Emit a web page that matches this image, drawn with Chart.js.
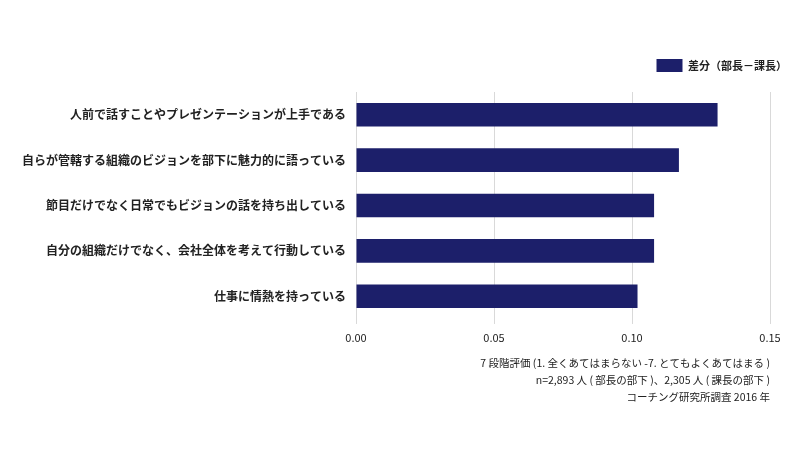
<!DOCTYPE html>
<html lang="ja">
<head>
    <meta charset="UTF-8">
    <title>差分（部長－課長）</title>
    <script src="https://cdn.jsdelivr.net/npm/chart.js"></script>
    <style>
        body { margin: 0; background: #fff; }
    </style>
</head>
<body>
    <canvas id="graficoDiferenca" width="800" height="460"></canvas>
<script>
    // dados
    const categorias = [
        "人前で話すことやプレゼンテーションが上手である",
        "自らが管轄する組織のビジョンを部下に魅力的に語っている",
        "節目だけでなく日常でもビジョンの話を持ち出している",
        "自分の組織だけでなく、会社全体を考えて行動している",
        "仕事に情熱を持っている"
    ];
    const diferenca = [0.131, 0.117, 0.108, 0.108, 0.102];
    const nomeSerie = "差分（部長－課長）";
    const ticksX = [0, 0.05, 0.10, 0.15];
    const rodape = [
        "7 段階評価 (1. 全くあてはまらない -7. とてもよくあてはまる )",
        "n=2,893 人 ( 部長の部下 )、2,305 人 ( 課長の部下 )",
        "コーチング研究所調査 2016 年"
    ];

    const fonte = "'Noto Sans CJK JP', 'Noto Sans', sans-serif";
    const corTexto = "#222";

    const dados = {
        labels: categorias,
        datasets: [{
            label: nomeSerie,
            data: diferenca,
            backgroundColor: "#1c1f6a",
            borderWidth: 0,
            categoryPercentage: 0.8,
            barPercentage: 0.65
        }]
    };

    const config = {
        type: 'bar',
        data: dados,
        options: {
            indexAxis: 'y',
            responsive: false,
            animation: false,
            layout: { padding: { left: 0, right: 3, top: 49, bottom: 54 } },
            scales: {
                x: {
                    min: 0,
                    max: 0.15,
                    afterBuildTicks: function (s) { s.ticks = ticksX.map(v => ({ value: v })); },
                    afterFit: function (s) { s.height = 30; },
                    grid: { color: "#d9d9d9", tickLength: 5 },
                    border: { display: false },
                    ticks: {
                        padding: 7,
                        color: corTexto,
                        font: { family: fonte, size: 11 },
                        callback: v => Number(v).toFixed(2)
                    }
                },
                y: {
                    afterFit: function (s) { s.width = 356; },
                    grid: { display: false },
                    border: { display: false },
                    ticks: {
                        padding: 2,
                        color: corTexto,
                        font: { family: fonte, size: 12, weight: 'bold' }
                    }
                },
                // espaco a direita para o eixo terminar em 0.15
                yDir: {
                    position: 'right',
                    type: 'linear',
                    display: true,
                    grid: { display: false },
                    border: { display: false },
                    ticks: { display: false },
                    afterFit: function (s) { s.width = 27; }
                }
            },
            plugins: {
                legend: {
                    position: 'top',
                    align: 'end',
                    weight: 1600,
                    labels: {
                        boxWidth: 26,
                        boxHeight: 13,
                        padding: 10,
                        color: corTexto,
                        font: { family: fonte, size: 11, weight: 'bold' }
                    }
                },
                subtitle: {
                    display: true,
                    position: 'top',
                    text: ' ',
                    font: { size: 8, lineHeight: 1 },
                    padding: { top: 1, bottom: 1 }
                },
                title: {
                    display: true,
                    position: 'bottom',
                    align: 'end',
                    fullSize: false,
                    text: rodape,
                    color: corTexto,
                    font: { family: fonte, size: 10.5, weight: 'normal', lineHeight: 1.62 },
                    padding: { top: 6, bottom: 0 }
                },
                tooltip: { enabled: false }
            }
        }
    };

    let meuGrafico = new Chart(document.getElementById('graficoDiferenca'), config);
</script>
</body>
</html>
